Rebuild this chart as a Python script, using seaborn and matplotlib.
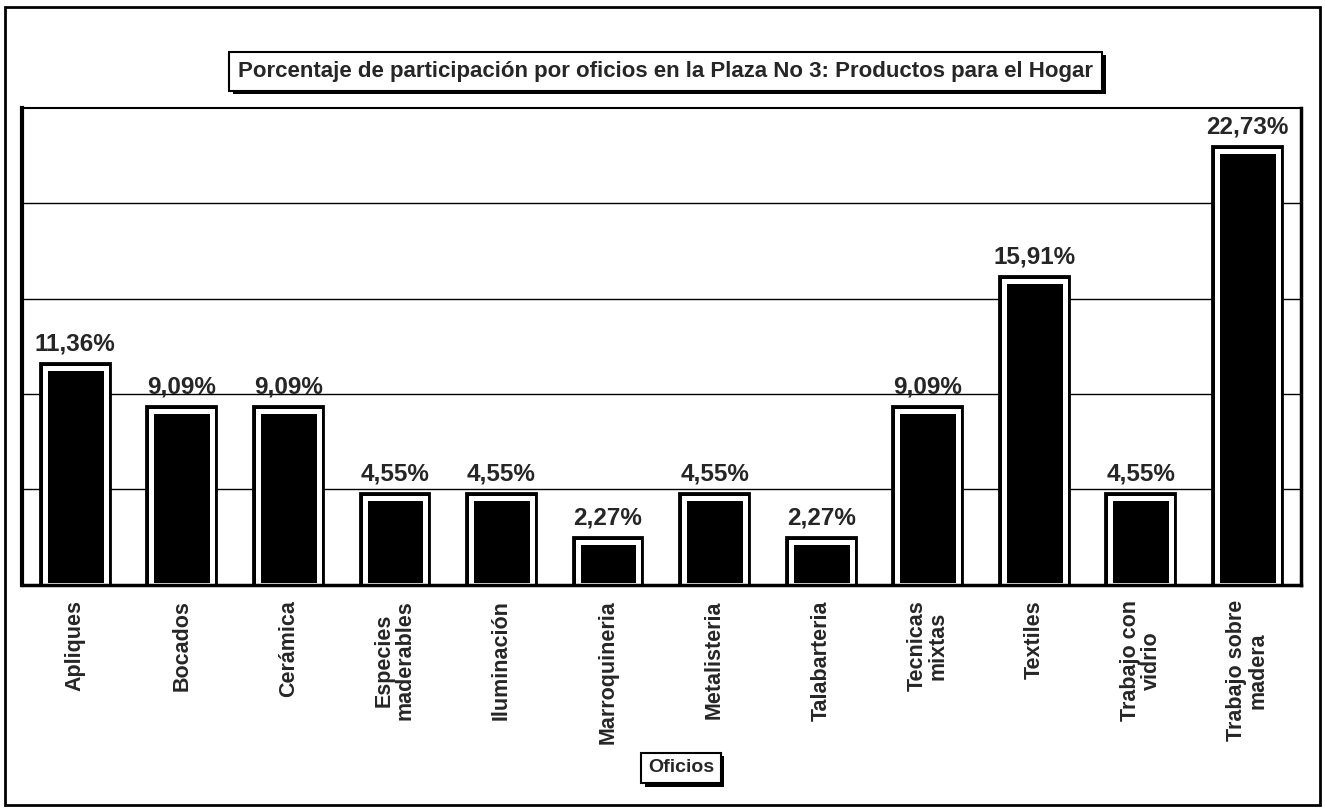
import numpy as np
import seaborn as sns
import matplotlib
matplotlib.use("Agg")
import matplotlib.pyplot as plt
import matplotlib.patheffects as pe
from matplotlib.patches import Rectangle

# datos
oficios = ["Apliques", "Bocados", "Cerámica", "Especies\nmaderables", "Iluminación",
           "Marroquineria", "Metalisteria", "Talabarteria", "Tecnicas\nmixtas",
           "Textiles", "Trabajo con\nvidrio", "Trabajo sobre\nmadera"]
porcentajes = [11.36, 9.09, 9.09, 4.55, 4.55, 2.27, 4.55, 2.27, 9.09, 15.91, 4.55, 22.73]
etiquetas = ["11,36%", "9,09%", "9,09%", "4,55%", "4,55%", "2,27%", "4,55%", "2,27%",
             "9,09%", "15,91%", "4,55%", "22,73%"]
titulo = "Porcentaje de participación por oficios en la Plaza No 3: Productos para el Hogar"

sns.set_style("white")
plt.rcParams["font.family"] = ["Liberation Sans", "DejaVu Sans"]

fig = plt.figure(figsize=(13.25, 8.09), dpi=100)
ax = fig.add_axes([0.0166, 0.277, 0.965, 0.590])

sns.barplot(x=oficios, y=porcentajes, color="black", width=0.57, saturation=1,
            edgecolor="white", linewidth=3.6, ax=ax)

# borde negro exterior + franja blanca + relleno negro
for bar in ax.patches:
    bar.set_facecolor("black")
    bar.set_path_effects([pe.Stroke(linewidth=8.5, foreground="black"), pe.Normal()])

for i, (v, txt) in enumerate(zip(porcentajes, etiquetas)):
    ax.annotate(txt, (i, v), xytext=(0, 9), textcoords="offset points",
                ha="center", va="bottom", fontsize=17.5, fontweight="bold")

ax.set_ylim(0, 25)
ax.set_xlim(-0.5, 11.5)
ax.set_yticks([5, 10, 15, 20])
ax.set_yticklabels([])
ax.tick_params(axis="y", length=0)
ax.yaxis.grid(True, color="black", linewidth=1)
ax.set_axisbelow(True)

ax.set_xticks(range(len(oficios)))
ax.set_xticklabels(oficios, rotation=90, fontsize=15.5, fontweight="bold",
                   multialignment="center", linespacing=1.0)
ax.tick_params(axis="x", which="major", length=0, pad=11)
ax.set_xticks(np.arange(-0.5, len(oficios), 1), minor=True)
ax.tick_params(axis="x", which="minor", length=5, width=1, direction="out", color="black")
ax.set_xlabel("")
ax.set_ylabel("")

ax.spines["left"].set_linewidth(3)
ax.spines["bottom"].set_linewidth(2.5)
ax.spines["right"].set_linewidth(2.5)
ax.spines["top"].set_linewidth(1.5)
for s in ax.spines.values():
    s.set_color("black")

sombra = [pe.SimplePatchShadow(offset=(2.5, -2.5), shadow_rgbFace="black", alpha=1), pe.Normal()]

t = fig.text(0.5025, 0.912, titulo, ha="center", va="center", fontsize=16, fontweight="bold",
             bbox=dict(boxstyle="square,pad=0.4", facecolor="white", edgecolor="black", linewidth=1.5))
t.get_bbox_patch().set_path_effects(sombra)
o = fig.text(0.514, 0.0507, "Oficios", ha="center", va="center", fontsize=14, fontweight="bold",
             bbox=dict(boxstyle="square,pad=0.35", facecolor="white", edgecolor="black", linewidth=1.5))
o.get_bbox_patch().set_path_effects(sombra)

# marco exterior
fig.patches.append(Rectangle((0.004, 0.005), 0.992, 0.986, transform=fig.transFigure,
                             fill=False, edgecolor="black", linewidth=2))

fig.savefig("out.png", dpi=100)
